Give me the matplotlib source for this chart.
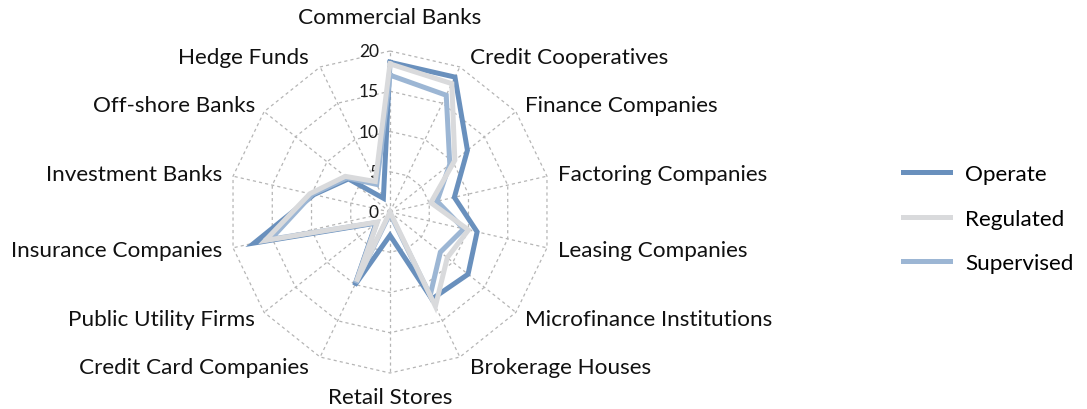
import numpy as np
import matplotlib
matplotlib.use("Agg")
import matplotlib.pyplot as plt

plt.rcParams['font.family'] = ['Lato', 'DejaVu Sans']

categories = ["Commercial Banks", "Credit Cooperatives", "Finance Companies",
              "Factoring Companies", "Leasing Companies", "Microfinance Institutions",
              "Brokerage Houses", "Retail Stores", "Credit Card Companies",
              "Public Utility Firms", "Insurance Companies", "Investment Banks",
              "Off-shore Banks", "Hedge Funds"]
operate = [18.6, 18.6, 12.3, 8.2, 11.1, 12.4, 12.0, 2.9, 10.1, 2.2, 17.3, 9.7, 6.6, 1.9]
regulated = [18.4, 17.7, 10.3, 5.2, 10.0, 9.1, 13.0, 0.0, 9.6, 2.0, 15.9, 10.2, 7.1, 4.2]
supervised = [17.0, 16.1, 9.5, 6.0, 9.4, 8.0, 11.5, 0.2, 9.8, 2.1, 15.2, 9.9, 6.8, 3.8]
series_names = ["Operate", "Regulated", "Supervised"]
tick_vals = [0, 5, 10, 15, 20]

colors = {"Operate": "#6990bd", "Regulated": "#d9dadc", "Supervised": "#9cb6d4"}
zorders = {"Operate": 3, "Regulated": 5, "Supervised": 4}

fig = plt.figure(figsize=(10.87, 4.10), dpi=100)
ax = fig.add_axes([229/1087, 36/410, 322/1087, 322/410], projection='polar')
ax.set_theta_zero_location('N')
ax.set_theta_direction(-1)
ax.set_ylim(0, 20)
ax.grid(False)
ax.spines['polar'].set_visible(False)
ax.set_xticks([])
ax.set_yticks([])
ax.patch.set_alpha(0)

n = len(categories)
angles = np.arange(n) * 2 * np.pi / n
closed = np.append(angles, angles[0])

grid_kw = dict(color='#b5b5b5', lw=0.9, ls=(0, (2.5, 2.5)), zorder=1, clip_on=False)
for v in tick_vals[1:]:
    ax.plot(closed, [v] * (n + 1), **grid_kw)
for a in angles:
    ax.plot([a, a], [0, 20], **grid_kw)

for v in tick_vals:
    ax.annotate(str(v), (0, v), xytext=(-8, 0), textcoords='offset points',
                ha='right', va='center', fontsize=12.5, color='#1a1a1a')

data = {"Operate": operate, "Regulated": regulated, "Supervised": supervised}
for name in series_names:
    vals = data[name]
    ax.plot(closed, vals + vals[:1], color=colors[name], lw=3.6,
            solid_joinstyle='miter', zorder=zorders[name], clip_on=False, label=name)

for a, lab in zip(angles, categories):
    s = np.sin(a)
    dx, dy = 0, 0
    if abs(s) < 0.1:
        ha = 'center'
        r = 24.2 if np.cos(a) > 0 else 22.6
        if np.cos(a) < 0:
            dy = -2
    else:
        ha = 'left' if s > 0 else 'right'
        r = 21.4
        if abs(s) < 0.5:
            dx = 3.5 if s > 0 else -4.5
    ax.annotate(lab, (a, r), xytext=(dx, dy), textcoords='offset points',
                ha=ha, va='center', fontsize=16.2, color='#111111', annotation_clip=False)

fig.legend(loc='center left', bbox_to_anchor=(903/1087, 0.4646), frameon=False,
           fontsize=16.2, handlelength=2.1, handletextpad=0.65, labelspacing=1.08,
           borderaxespad=0, borderpad=0)

fig.savefig("out.png", dpi=100)
